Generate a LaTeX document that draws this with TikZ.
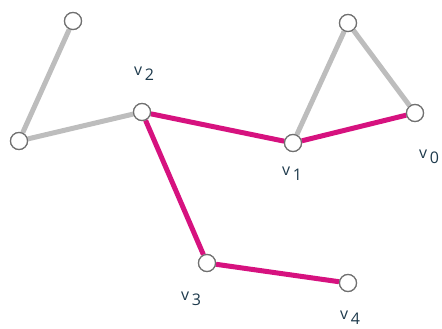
\documentclass[tikz,border=0pt]{standalone}
\usepackage{fontspec}
\setmainfont{Open Sans}
\definecolor{pathpink}{HTML}{D6127F}
\definecolor{edgegray}{HTML}{BDBDBD}
\definecolor{ringgray}{HTML}{707070}
\definecolor{labelblue}{HTML}{1E3A4C}
\begin{document}
\begin{tikzpicture}[x=1pt,y=-1pt,
  vert/.style={circle,draw=ringgray,line width=1.2pt,fill=white,minimum size=17pt,inner sep=0pt},
  grayedge/.style={draw=edgegray,line width=5pt},
  pinkedge/.style={draw=pathpink,line width=5pt},
  lab/.style={text=labelblue,font=\fontsize{16}{16}\selectfont,inner sep=0pt}]
\useasboundingbox (0,0) rectangle (442,329);
\node[vert] (a) at (73,21) {};
\node[vert] (b) at (19,141) {};
\node[vert] (v2) at (142,112) {};
\node[vert] (c) at (348,23) {};
\node[vert] (v0) at (415,113) {};
\node[vert] (v1) at (293,143) {};
\node[vert] (v3) at (207,263) {};
\node[vert] (v4) at (348,283) {};
\path[grayedge] (a) -- (b);
\path[grayedge] (b) -- (v2);
\path[grayedge] (v1) -- (c);
\path[grayedge] (c) -- (v0);
\path[pinkedge] (v2) -- (v1);
\path[pinkedge] (v1) -- (v0);
\path[pinkedge] (v2) -- (v3);
\path[pinkedge] (v3) -- (v4);
\foreach \n in {a,b,v2,c,v0,v1,v3,v4} {\node[vert] at (\n) {};}
\node[lab] (l2) at (144,74) {v\,\raisebox{-5pt}{2}};
\node[lab] (l1) at (292,174) {v\,\raisebox{-5pt}{1}};
\node[lab] (l0) at (429,157) {v\,\raisebox{-5pt}{0}};
\node[lab] (l3) at (191,299) {v\,\raisebox{-5pt}{3}};
\node[lab] (l4) at (350,318) {v\,\raisebox{-5pt}{4}};
\end{tikzpicture}
\end{document}
